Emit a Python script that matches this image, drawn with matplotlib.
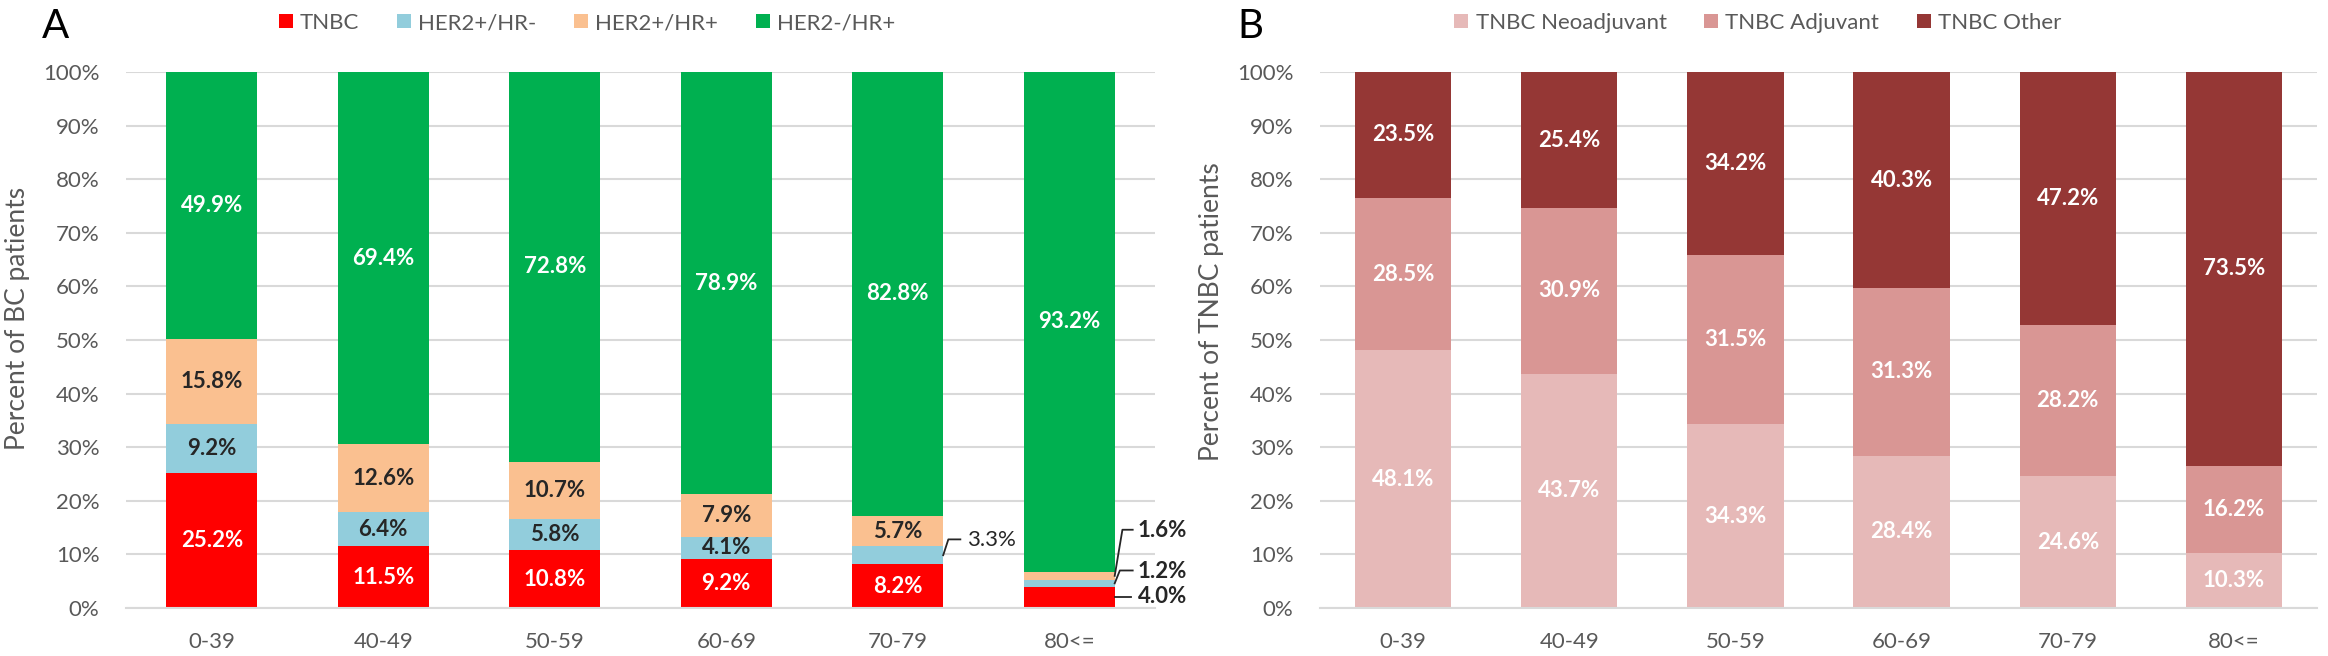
import matplotlib
matplotlib.use("Agg")
import matplotlib.pyplot as plt
from matplotlib.patches import Patch
import numpy as np

plt.rcParams['font.family'] = ['Lato', 'DejaVu Sans']

categories = ["0-39", "40-49", "50-59", "60-69", "70-79", "80<="]

# Panel A: subtype distribution (% of BC patients)
a_names = ["TNBC", "HER2+/HR-", "HER2+/HR+", "HER2-/HR+"]
a_tnbc = [25.2, 11.5, 10.8, 9.2, 8.2, 4.0]
a_her2p_hrn = [9.2, 6.4, 5.8, 4.1, 3.3, 1.2]
a_her2p_hrp = [15.8, 12.6, 10.7, 7.9, 5.7, 1.6]
a_her2n_hrp = [49.9, 69.4, 72.8, 78.9, 82.8, 93.2]
a_colors = ["#FF0000", "#92CDDC", "#FAC090", "#00B050"]
a_label_colors = ["white", "#262626", "#262626", "white"]

# Panel B: TNBC treatment setting (% of TNBC patients)
b_names = ["TNBC Neoadjuvant", "TNBC Adjuvant", "TNBC Other"]
b_neo = [48.1, 43.7, 34.3, 28.4, 24.6, 10.3]
b_adj = [28.5, 30.9, 31.5, 31.3, 28.2, 16.2]
b_other = [23.5, 25.4, 34.2, 40.3, 47.2, 73.5]
b_colors = ["#E6B9B8", "#D99694", "#953735"]

W, H = 2328, 656
fig = plt.figure(figsize=(W / 100, H / 100), dpi=100)

bottom_f = 1 - 608 / H
top_f = 1 - 72 / H
axA = fig.add_axes([126 / W, bottom_f, (1155 - 126) / W, top_f - bottom_f])
axB = fig.add_axes([1320 / W, bottom_f, (2317 - 1320) / W, top_f - bottom_f])

GRID = "#D9D9D9"
TICK = "#595959"
DARK = "#262626"
FS = 16


def style(ax):
    ax.set_xlim(-0.5, 5.5)
    ax.set_ylim(0, 100)
    ax.set_yticks(np.arange(0, 101, 10))
    ax.set_yticklabels([f"{v}%" for v in range(0, 101, 10)])
    ax.set_xticks(range(len(categories)))
    ax.set_xticklabels(categories)
    ax.yaxis.grid(True, color=GRID, linewidth=1.5)
    ax.set_axisbelow(True)
    for s in ["top", "right", "left"]:
        ax.spines[s].set_visible(False)
    ax.spines["bottom"].set_color(GRID)
    ax.spines["bottom"].set_linewidth(1.5)
    ax.tick_params(axis="both", length=0, labelsize=FS, colors=TICK)
    ax.tick_params(axis="y", pad=19)
    ax.tick_params(axis="x", pad=17)


def stacked(ax, series, colors, label_colors, width, skip=()):
    raw = np.array(series, dtype=float)
    norm = raw / raw.sum(axis=0) * 100.0  # 100% stacked, as in the source
    xs = np.arange(raw.shape[1])
    base = np.zeros(raw.shape[1])
    mids = np.zeros_like(raw)
    for si in range(raw.shape[0]):
        ax.bar(xs, norm[si], width, bottom=base, color=colors[si], zorder=2)
        mids[si] = base + norm[si] / 2
        for ci in range(raw.shape[1]):
            if (si, ci) in skip:
                continue
            ax.text(xs[ci], mids[si, ci], f"{raw[si, ci]:.1f}%",
                    ha="center", va="center", fontsize=FS, fontweight="bold",
                    color=label_colors[si], zorder=3)
        base = base + norm[si]
    return raw, mids


# ---- Panel A ----
style(axA)
wA = 0.53
outside = {(1, 4), (0, 5), (1, 5), (2, 5)}
rawA, midsA = stacked(axA, [a_tnbc, a_her2p_hrn, a_her2p_hrp, a_her2n_hrp],
                      a_colors, a_label_colors, wA, skip=outside)

# outside labels with leader lines
edge4 = 4 + wA / 2
edge5 = 5 + wA / 2
axA.plot([edge4, edge4 + 0.03, edge4 + 0.1], [midsA[1, 4], 12.8, 12.8],
         color=DARK, lw=1.3, clip_on=False, zorder=3)
axA.text(edge4 + 0.14, 12.6, f"{rawA[1, 4]:.1f}%", ha="left", va="center",
         fontsize=FS, color=DARK)

axA.plot([edge5, edge5 + 0.045, edge5 + 0.105], [midsA[2, 5], 14.6, 14.6],
         color=DARK, lw=1.3, clip_on=False, zorder=3)
axA.plot([edge5, edge5 + 0.03, edge5 + 0.105], [midsA[1, 5], 7.0, 7.0],
         color=DARK, lw=1.3, clip_on=False, zorder=3)
axA.plot([edge5, edge5 + 0.095], [midsA[0, 5] + 0.1, midsA[0, 5] + 0.1],
         color=DARK, lw=1.3, clip_on=False, zorder=3)
for si, yy in [(2, 14.4), (1, 6.9), (0, 2.1)]:
    axA.text(edge5 + 0.135, yy, f"{rawA[si, 5]:.1f}%", ha="left", va="center",
             fontsize=FS, fontweight="bold", color=DARK, clip_on=False)

# ---- Panel B ----
style(axB)
stacked(axB, [b_neo, b_adj, b_other], b_colors, ["white"] * 3, 0.58)

# y labels
fig.text(18 / W, 1 - 318 / H, "Percent of BC patients", rotation=90,
         ha="center", va="center", fontsize=19, color=TICK)
fig.text(1212 / W, 1 - 312 / H, "Percent of TNBC patients", rotation=90,
         ha="center", va="center", fontsize=19, color=TICK)

# panel letters
fig.text(55 / W, 1 - 27 / H, "A", ha="center", va="center", fontsize=29, color="black")
fig.text(1250 / W, 1 - 27 / H, "B", ha="center", va="center", fontsize=29, color="black")

# legends
hA = [Patch(facecolor=c, edgecolor="none", label=n) for c, n in zip(a_colors, a_names)]
legA = fig.legend(handles=hA, loc="center", bbox_to_anchor=(587 / W, 1 - 23 / H),
                  ncol=4, frameon=False, fontsize=FS, handlelength=0.63,
                  handleheight=0.63, handletextpad=0.32, columnspacing=1.7)
for t in legA.get_texts():
    t.set_color(TICK)
hB = [Patch(facecolor=c, edgecolor="none", label=n) for c, n in zip(b_colors, b_names)]
legB = fig.legend(handles=hB, loc="center", bbox_to_anchor=(1758 / W, 1 - 23 / H),
                  ncol=3, frameon=False, fontsize=FS, handlelength=0.63,
                  handleheight=0.63, handletextpad=0.32, columnspacing=1.7)
for t in legB.get_texts():
    t.set_color(TICK)

fig.savefig("out.png", dpi=100)
